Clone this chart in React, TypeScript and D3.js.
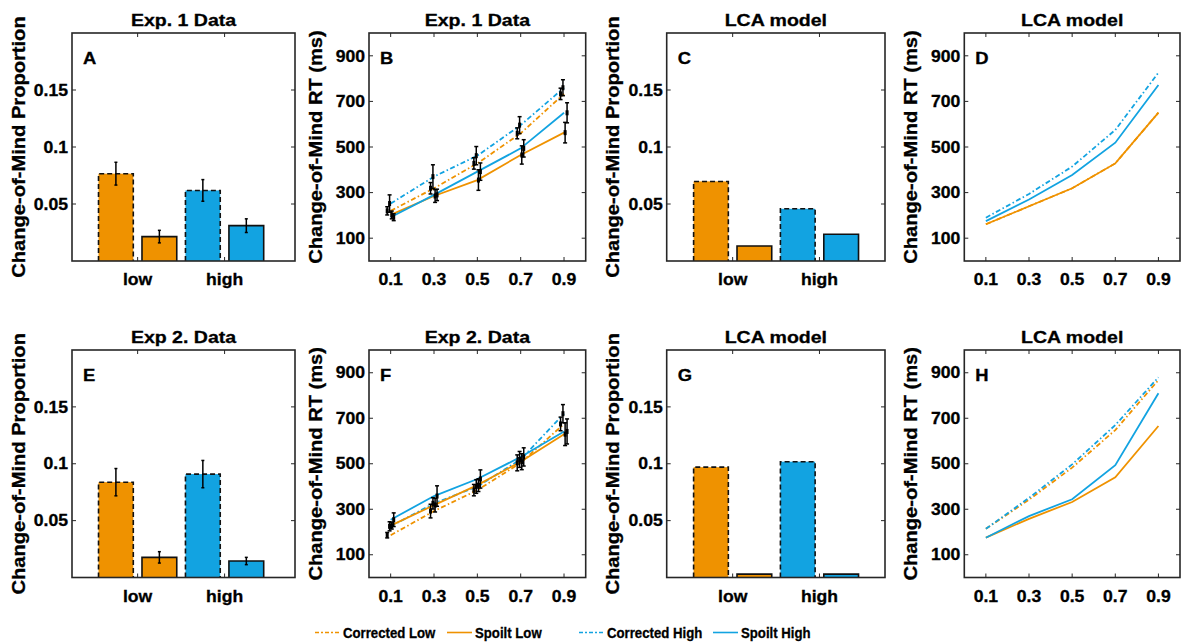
import React from "react";
import * as d3 from "d3";

// ---------- DATA ----------
const groups = ["low", "high"];
const quantiles = [0.1, 0.3, 0.5, 0.7, 0.9];
const propTicks = [0.05, 0.1, 0.15];
const propTickLabels = ["0.05", "0.1", "0.15"];
const rtTicks = [100, 300, 500, 700, 900];
const qTickLabels = ["0.1", "0.3", "0.5", "0.7", "0.9"];

// Change-of-mind proportion: [low, high]
const exp1PropCorrected = [0.0766, 0.0619];
const exp1PropCorrectedErr = [0.0100, 0.0095];
const exp1PropSpoilt = [0.0214, 0.0310];
const exp1PropSpoiltErr = [0.0055, 0.0060];
const lca1PropCorrected = [0.0698, 0.0458];
const lca1PropSpoilt = [0.0132, 0.0235];
const exp2PropCorrected = [0.0838, 0.0909];
const exp2PropCorrectedErr = [0.0120, 0.0120];
const exp2PropSpoilt = [0.0177, 0.0145];
const exp2PropSpoiltErr = [0.0050, 0.0032];
const lca2PropCorrected = [0.0970, 0.1018];
const lca2PropSpoilt = [0.0030, 0.0030];

// Change-of-mind RT quantiles (ms)
const exp1CorrLow = [220, 319, 428, 560, 733];
const exp1CorrLowErr = [18, 25, 25, 24, 25];
const exp1CorrHigh = [252, 370, 462, 596, 760];
const exp1CorrHighErr = [38, 52, 40, 37, 35];
const exp1SpoLow = [202, 285, 355, 465, 563];
const exp1SpoLowErr = [17, 28, 45, 40, 45];
const exp1SpoHigh = [192, 290, 392, 494, 650];
const exp1SpoHighErr = [15, 25, 38, 38, 44];

const lca1CorrLow = [161, 240, 319, 428, 651];
const lca1CorrHigh = [190, 294, 414, 575, 826];
const lca1SpoLow = [161, 240, 319, 428, 651];
const lca1SpoHigh = [175, 270, 377, 519, 772];

const exp2CorrLow = [186, 292, 384, 504, 675];
const exp2CorrLowErr = [12, 30, 25, 35, 30];
const exp2CorrHigh = [225, 326, 400, 519, 720];
const exp2CorrHighErr = [20, 25, 30, 35, 40];
const exp2SpoLow = [228, 318, 406, 509, 630];
const exp2SpoLowErr = [15, 30, 28, 35, 50];
const exp2SpoHigh = [254, 358, 433, 530, 642];
const exp2SpoHighErr = [30, 45, 40, 40, 55];

const lca2CorrLow = [214, 342, 483, 648, 868];
const lca2CorrHigh = [214, 350, 497, 670, 880];
const lca2SpoLow = [175, 258, 332, 440, 666];
const lca2SpoHigh = [175, 270, 344, 494, 810];

const legendLabels = ["Corrected Low", "Spoilt Low", "Corrected High", "Spoilt High"];

// ---------- STYLE ----------
const ORANGE = "#EF9200";
const BLUE = "#12A3E1";
const AXIS = "#262626";
const DASHDOT = "5,2.5,1.5,2.5";
const FONT = "'Liberation Sans', Arial, Helvetica, sans-serif";

const colLeft = [72, 369, 666.7, 964.3];
const colWidth = [223, 216.7, 218.3, 215.7];
const rowTop = [33, 350];
const rowBottom = [261, 577.5];

function T({ x, y, anchor = "middle", size = 16, sx = 1.1, rot = 0, children }: any) {
  return (
    <text
      transform={`translate(${x},${y}) rotate(${rot}) scale(${sx},1)`}
      textAnchor={anchor}
      fontSize={size}
      fill="#000"
      stroke="#000"
      strokeWidth={0.3}
    >
      {children}
    </text>
  );
}

function Frame({ left, top, width, height, title, letter, ylabel }: any) {
  return (
    <g>
      <rect x={left} y={top} width={width} height={height} fill="none" stroke={AXIS} strokeWidth={1.6} />
      <T x={left + width / 2} y={top - 7} size={17} sx={1.15}>{title}</T>
      <T x={left + 11} y={top + 30.5} anchor="start" size={16} sx={1.15}>{letter}</T>
      <T x={left - 47.5} y={top + height / 2} size={17.5} sx={1.15} rot={-90}>{ylabel}</T>
    </g>
  );
}

function YTicks({ y, ticks, labels, left, width }: any) {
  return (
    <g>
      {ticks.map((t: number, i: number) => (
        <g key={i}>
          <line x1={left} x2={left + 4} y1={y(t)} y2={y(t)} stroke={AXIS} strokeWidth={1} />
          <line x1={left + width - 4} x2={left + width} y1={y(t)} y2={y(t)} stroke={AXIS} strokeWidth={1} />
          <T x={left - 4} y={y(t) + 5.7} anchor="end">{labels[i]}</T>
        </g>
      ))}
    </g>
  );
}

function XTicks({ x, ticks, labels, top, bottom }: any) {
  return (
    <g>
      {ticks.map((t: number, i: number) => (
        <g key={i}>
          <line x1={x(t)} x2={x(t)} y1={bottom} y2={bottom - 4} stroke={AXIS} strokeWidth={1} />
          <line x1={x(t)} x2={x(t)} y1={top} y2={top + 4} stroke={AXIS} strokeWidth={1} />
          <T x={x(t)} y={bottom + 24}>{labels[i]}</T>
        </g>
      ))}
    </g>
  );
}

function BarPanel({ col, row, title, letter, corrected, spoilt, corrErr, spoErr, xlim }: any) {
  const left = colLeft[col], width = colWidth[col];
  const top = rowTop[row], bottom = rowBottom[row];
  const x = d3.scaleLinear().domain(xlim).range([left, left + width]);
  const y = d3.scaleLinear().domain([0, 0.2]).range([bottom, top]);
  const colors = [ORANGE, BLUE];
  const bw = 0.4;
  const bars: any[] = [];
  groups.forEach((g, i) => {
    const gc = i + 1;
    bars.push({ xc: gc - 0.25, v: corrected[i], e: corrErr ? corrErr[i] : null, c: colors[i], dashed: true });
    bars.push({ xc: gc + 0.25, v: spoilt[i], e: spoErr ? spoErr[i] : null, c: colors[i], dashed: false });
  });
  return (
    <g>
      {bars.map((b, i) => {
        const x0 = x(b.xc - bw / 2), x1 = x(b.xc + bw / 2);
        return (
          <g key={i}>
            <rect x={x0} y={y(b.v)} width={x1 - x0} height={bottom - y(b.v)} fill={b.c} />
            <path
              d={`M${x0},${bottom}V${y(b.v)}H${x1}V${bottom}`}
              fill="none"
              stroke="#111"
              strokeWidth={1.6}
              strokeDasharray={b.dashed ? "5,3" : undefined}
            />
          </g>
        );
      })}
      {bars.map((b, i) =>
        b.e == null ? null : (
          <g key={"e" + i} stroke="#000" strokeWidth={1.5}>
            <line x1={x(b.xc)} x2={x(b.xc)} y1={y(b.v - b.e)} y2={y(b.v + b.e)} />
            <line x1={x(b.xc) - 1.5} x2={x(b.xc) + 1.5} y1={y(b.v - b.e)} y2={y(b.v - b.e)} />
            <line x1={x(b.xc) - 1.5} x2={x(b.xc) + 1.5} y1={y(b.v + b.e)} y2={y(b.v + b.e)} />
          </g>
        )
      )}
      <YTicks y={y} ticks={propTicks} labels={propTickLabels} left={left} width={width} />
      <XTicks x={x} ticks={[1, 2]} labels={groups} top={top} bottom={bottom} />
      <Frame left={left} top={top} width={width} height={bottom - top} title={title} letter={letter} ylabel="Change-of-Mind Proportion" />
    </g>
  );
}

function RTPanel({ col, row, title, letter, series }: any) {
  const left = colLeft[col], width = colWidth[col];
  const top = rowTop[row], bottom = rowBottom[row];
  const x = d3.scaleLinear().domain([0, 1]).range([left, left + width]);
  const y = d3.scaleLinear().domain([0, 1000]).range([bottom, top]);
  const line = d3.line<number>().x((_, i) => x(quantiles[i])).y((d) => y(d));
  return (
    <g>
      {series.map((s: any, i: number) => (
        <path key={i} d={line(s.values) || ""} fill="none" stroke={s.color} strokeWidth={1.8}
          strokeDasharray={s.dashed ? DASHDOT : undefined} />
      ))}
      {series.map((s: any, i: number) =>
        s.err
          ? s.values.map((v: number, j: number) => {
              const xx = x(quantiles[j] + s.off);
              const e = s.err[j];
              return (
                <g key={`${i}-${j}`} stroke="#000" strokeWidth={1.5}>
                  <line x1={xx} x2={xx} y1={y(v - e)} y2={y(v + e)} />
                  <line x1={xx - 2} x2={xx + 2} y1={y(v - e)} y2={y(v - e)} />
                  <line x1={xx - 2} x2={xx + 2} y1={y(v + e)} y2={y(v + e)} />
                  <rect x={xx - 1.5} y={y(v) - 2.5} width={3} height={5} fill="#000" stroke="none" />
                </g>
              );
            })
          : null
      )}
      <YTicks y={y} ticks={rtTicks} labels={rtTicks.map(String)} left={left} width={width} />
      <XTicks x={x} ticks={quantiles} labels={qTickLabels} top={top} bottom={bottom} />
      <Frame left={left} top={top} width={width} height={bottom - top} title={title} letter={letter} ylabel="Change-of-Mind RT (ms)" />
    </g>
  );
}

function mk(cl: number[], ch: number[], sl: number[], sh: number[], ecl?: number[], ech?: number[], esl?: number[], esh?: number[]) {
  return [
    { values: cl, err: ecl, color: ORANGE, dashed: true, off: -0.016 },
    { values: ch, err: ech, color: BLUE, dashed: true, off: -0.005 },
    { values: sl, err: esl, color: ORANGE, dashed: false, off: 0.005 },
    { values: sh, err: esh, color: BLUE, dashed: false, off: 0.014 },
  ];
}

function Legend() {
  const items = [
    { x: 315, c: ORANGE, dashed: true },
    { x: 447, c: ORANGE, dashed: false },
    { x: 579, c: BLUE, dashed: true },
    { x: 713, c: BLUE, dashed: false },
  ];
  const ly = 632.5;
  return (
    <g>
      {items.map((it, i) => (
        <g key={i}>
          <line x1={it.x} x2={it.x + 25} y1={ly} y2={ly} stroke={it.c} strokeWidth={1.6}
            strokeDasharray={it.dashed ? "4,2,2,2" : undefined} />
          <T x={it.x + 28} y={ly + 5.2} anchor="start" size={14.5} sx={0.91}>{legendLabels[i]}</T>
        </g>
      ))}
    </g>
  );
}

export default function App() {
  return (
    <svg width={1181} height={643} style={{ position: "absolute", left: 0, top: 0, background: "#fff" }}
      fontFamily={FONT} fontWeight="bold">
      <rect x={0} y={0} width={1181} height={643} fill="#fff" />
      <BarPanel col={0} row={0} title="Exp. 1 Data" letter="A" corrected={exp1PropCorrected} spoilt={exp1PropSpoilt}
        corrErr={exp1PropCorrectedErr} spoErr={exp1PropSpoiltErr} xlim={[0.245, 2.81]} />
      <RTPanel col={1} row={0} title="Exp. 1 Data" letter="B"
        series={mk(exp1CorrLow, exp1CorrHigh, exp1SpoLow, exp1SpoHigh, exp1CorrLowErr, exp1CorrHighErr, exp1SpoLowErr, exp1SpoHighErr)} />
      <BarPanel col={2} row={0} title="LCA model" letter="C" corrected={lca1PropCorrected} spoilt={lca1PropSpoilt} xlim={[0.24, 2.755]} />
      <RTPanel col={3} row={0} title="LCA model" letter="D" series={mk(lca1CorrLow, lca1CorrHigh, lca1SpoLow, lca1SpoHigh)} />

      <BarPanel col={0} row={1} title="Exp 2. Data" letter="E" corrected={exp2PropCorrected} spoilt={exp2PropSpoilt}
        corrErr={exp2PropCorrectedErr} spoErr={exp2PropSpoiltErr} xlim={[0.245, 2.81]} />
      <RTPanel col={1} row={1} title="Exp 2. Data" letter="F"
        series={mk(exp2CorrLow, exp2CorrHigh, exp2SpoLow, exp2SpoHigh, exp2CorrLowErr, exp2CorrHighErr, exp2SpoLowErr, exp2SpoHighErr)} />
      <BarPanel col={2} row={1} title="LCA model" letter="G" corrected={lca2PropCorrected} spoilt={lca2PropSpoilt} xlim={[0.24, 2.755]} />
      <RTPanel col={3} row={1} title="LCA model" letter="H" series={mk(lca2CorrLow, lca2CorrHigh, lca2SpoLow, lca2SpoHigh)} />
      <Legend />
    </svg>
  );
}
